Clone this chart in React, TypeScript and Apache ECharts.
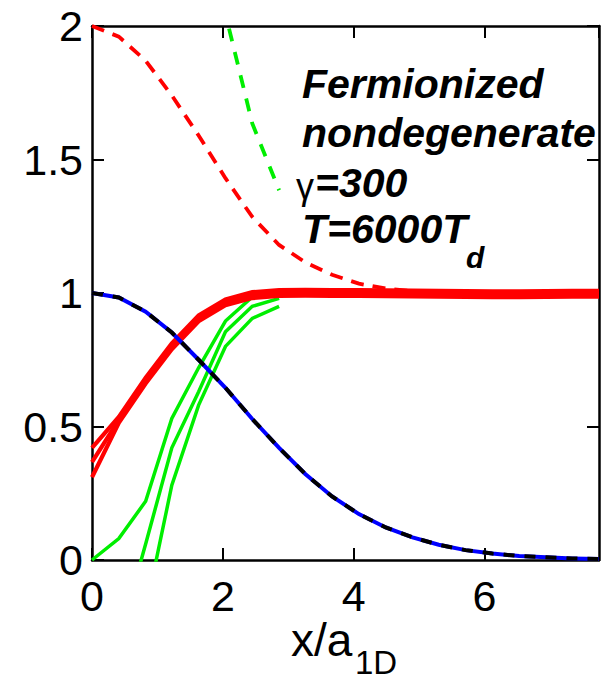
import React, { useEffect, useRef } from "react";
import * as echarts from "echarts";

// ---- data ----
const xNodes = [0, 0.41, 0.82, 1.22, 1.63, 2.04, 2.45, 2.86, 3.26, 3.67, 4.08, 4.49, 4.9, 5.3, 5.71, 6.12, 6.53, 6.94, 7.34, 7.75];

const blueDensity = [1.0, 0.983, 0.93, 0.852, 0.75, 0.645, 0.528, 0.42, 0.322, 0.238, 0.172, 0.122, 0.085, 0.057, 0.037, 0.024, 0.015, 0.01, 0.006, 0.004];
const blackDashedDensity = [1.0, 0.983, 0.93, 0.852, 0.75, 0.645, 0.528, 0.42, 0.322, 0.238, 0.172, 0.122, 0.085, 0.057, 0.037, 0.024, 0.015, 0.01, 0.006, 0.004];

const redSolidA = [0.42, 0.536, 0.683, 0.811, 0.916, 0.976, 1.003, 1.011, 1.012, 1.011, 1.011, 1.01, 1.009, 1.008, 1.007, 1.006, 1.006, 1.007, 1.008, 1.008];
const redSolidB = [0.367, 0.525, 0.672, 0.8, 0.905, 0.965, 0.992, 1.0, 1.001, 1.0, 1.0, 0.999, 0.998, 0.997, 0.996, 0.995, 0.995, 0.996, 0.997, 0.997];
const redSolidC = [0.31, 0.514, 0.661, 0.789, 0.894, 0.954, 0.981, 0.989, 0.99, 0.989, 0.989, 0.988, 0.987, 0.986, 0.985, 0.984, 0.984, 0.985, 0.986, 0.986];

const redDashed = [2.0, 1.96, 1.87, 1.74, 1.59, 1.43, 1.285, 1.18, 1.115, 1.068, 1.035, 1.017, 1.007, 1.003];

const greenSolidA = [0, 0.08, 0.22, 0.53, 0.72, 0.895, 0.985, 1.0]; // x from 0
const greenSolidB = [-0.3, 0.06, 0.42, 0.63, 0.855, 0.95, 0.98]; // x from 0.41
const greenSolidC = [-0.6, -0.19, 0.28, 0.58, 0.8, 0.905, 0.95]; // x from 0.41
const greenDashed = [2.7, 2.045, 1.635, 1.385]; // x from 1.63

const xTickLabels = ["0", "2", "4", "6"];
const yTickLabels = ["0", "0.5", "1", "1.5", "2"];

const annotationTitle = ["Fermionized", "nondegenerate"];
const gammaText = ["γ", "=300"];
const tempText = ["T=6000T", "d"];
const xTitle = ["x/a", "1D"];

const pairs = (xs: number[], ys: number[], start = 0) => ys.map((y, i) => [xs[start + i], y]);

export default function App() {
  const ref = useRef<HTMLDivElement>(null);

  useEffect(() => {
    if (!ref.current) return;
    const chart = echarts.init(ref.current, undefined, { renderer: "svg" });
    const FONT = "Liberation Sans";
    const axisLine = { show: true, onZero: false, lineStyle: { color: "#000", width: 2.5 } };
    const axisTick = { show: true, inside: true, length: 12, lineStyle: { color: "#000", width: 2 } };

    const line = (data: number[][], color: string, width: number, type: any = "solid", z = 2) => ({
      type: "line",
      data,
      symbol: "none",
      smooth: false,
      clip: true,
      z,
      lineStyle: { color, width, type, cap: "butt", join: "miter" },
    });

    const boldItalic = (size: number) => `italic bold ${size}px "${FONT}"`;

    chart.setOption({
      animation: false,
      backgroundColor: "#fff",
      grid: { left: 92, top: 26, right: 5, bottom: 122, containLabel: false },
      xAxis: [
        {
          type: "value",
          min: 0,
          max: 7.75,
          interval: 2,
          position: "bottom",
          axisLine,
          axisTick,
          splitLine: { show: false },
          axisLabel: {
            show: true,
            margin: 14,
            color: "#000",
            fontFamily: FONT,
            fontSize: 43,
            showMaxLabel: false,
            formatter: (v: number) => {
              const s = String(Math.round(v * 100) / 100);
              return xTickLabels.includes(s) ? s : "";
            },
          },
        },
        {
          type: "value",
          min: 0,
          max: 7.75,
          interval: 2,
          position: "top",
          axisLine,
          axisTick,
          splitLine: { show: false },
          axisLabel: { show: false },
        },
      ],
      yAxis: [
        {
          type: "value",
          min: 0,
          max: 2,
          interval: 0.5,
          position: "left",
          axisLine,
          axisTick,
          splitLine: { show: false },
          axisLabel: {
            show: true,
            margin: 9,
            color: "#000",
            fontFamily: FONT,
            fontSize: 43,
            formatter: (v: number) => {
              const s = String(Math.round(v * 100) / 100);
              return yTickLabels.includes(s) ? s : "";
            },
          },
        },
        {
          type: "value",
          min: 0,
          max: 2,
          interval: 0.5,
          position: "right",
          axisLine,
          axisTick,
          splitLine: { show: false },
          axisLabel: { show: false },
        },
      ],
      series: [
        line(pairs(xNodes, greenSolidA), "#00ee00", 3.5),
        line(pairs(xNodes, greenSolidB, 1), "#00ee00", 3.5),
        line(pairs(xNodes, greenSolidC, 1), "#00ee00", 3.5),
        line(pairs(xNodes, greenDashed, 4), "#00ee00", 3.8, [13, 11]),
        line(pairs(xNodes, redDashed), "#ff0000", 3.8, [13, 9]),
        line(pairs(xNodes, redSolidA), "#ff0000", 4.2),
        line(pairs(xNodes, redSolidB), "#ff0000", 4.2),
        line(pairs(xNodes, redSolidC), "#ff0000", 4.2),
        line(pairs(xNodes, blueDensity), "#0000ff", 4),
        line(pairs(xNodes, blackDashedDensity), "#000000", 4, [11, 10]),
      ],
      graphic: [
        { type: "text", x: 302, y: 84, style: { text: annotationTitle[0], font: boldItalic(41), fill: "#000", verticalAlign: "middle" } },
        { type: "text", x: 302, y: 133, style: { text: annotationTitle[1], font: boldItalic(41), fill: "#000", verticalAlign: "middle" } },
        { type: "text", x: 296, y: 186, style: { text: gammaText[0], font: `normal 36px "${FONT}"`, fill: "#000", verticalAlign: "middle" } },
        { type: "text", x: 315, y: 183, style: { text: gammaText[1], font: boldItalic(41), fill: "#000", verticalAlign: "middle" } },
        { type: "text", x: 302, y: 229, style: { text: tempText[0], font: boldItalic(41), fill: "#000", verticalAlign: "middle" } },
        { type: "text", x: 466, y: 257, style: { text: tempText[1], font: boldItalic(30), fill: "#000", verticalAlign: "middle" } },
        { type: "text", x: 291, y: 640, style: { text: xTitle[0], font: `normal 46px "${FONT}"`, fill: "#000", verticalAlign: "middle" } },
        { type: "text", x: 355, y: 662, style: { text: xTitle[1], font: `normal 33px "${FONT}"`, fill: "#000", verticalAlign: "middle" } },
      ],
    });

    return () => chart.dispose();
  }, []);

  return <div ref={ref} style={{ position: "fixed", left: 0, top: 0, width: 604, height: 682 }} />;
}
